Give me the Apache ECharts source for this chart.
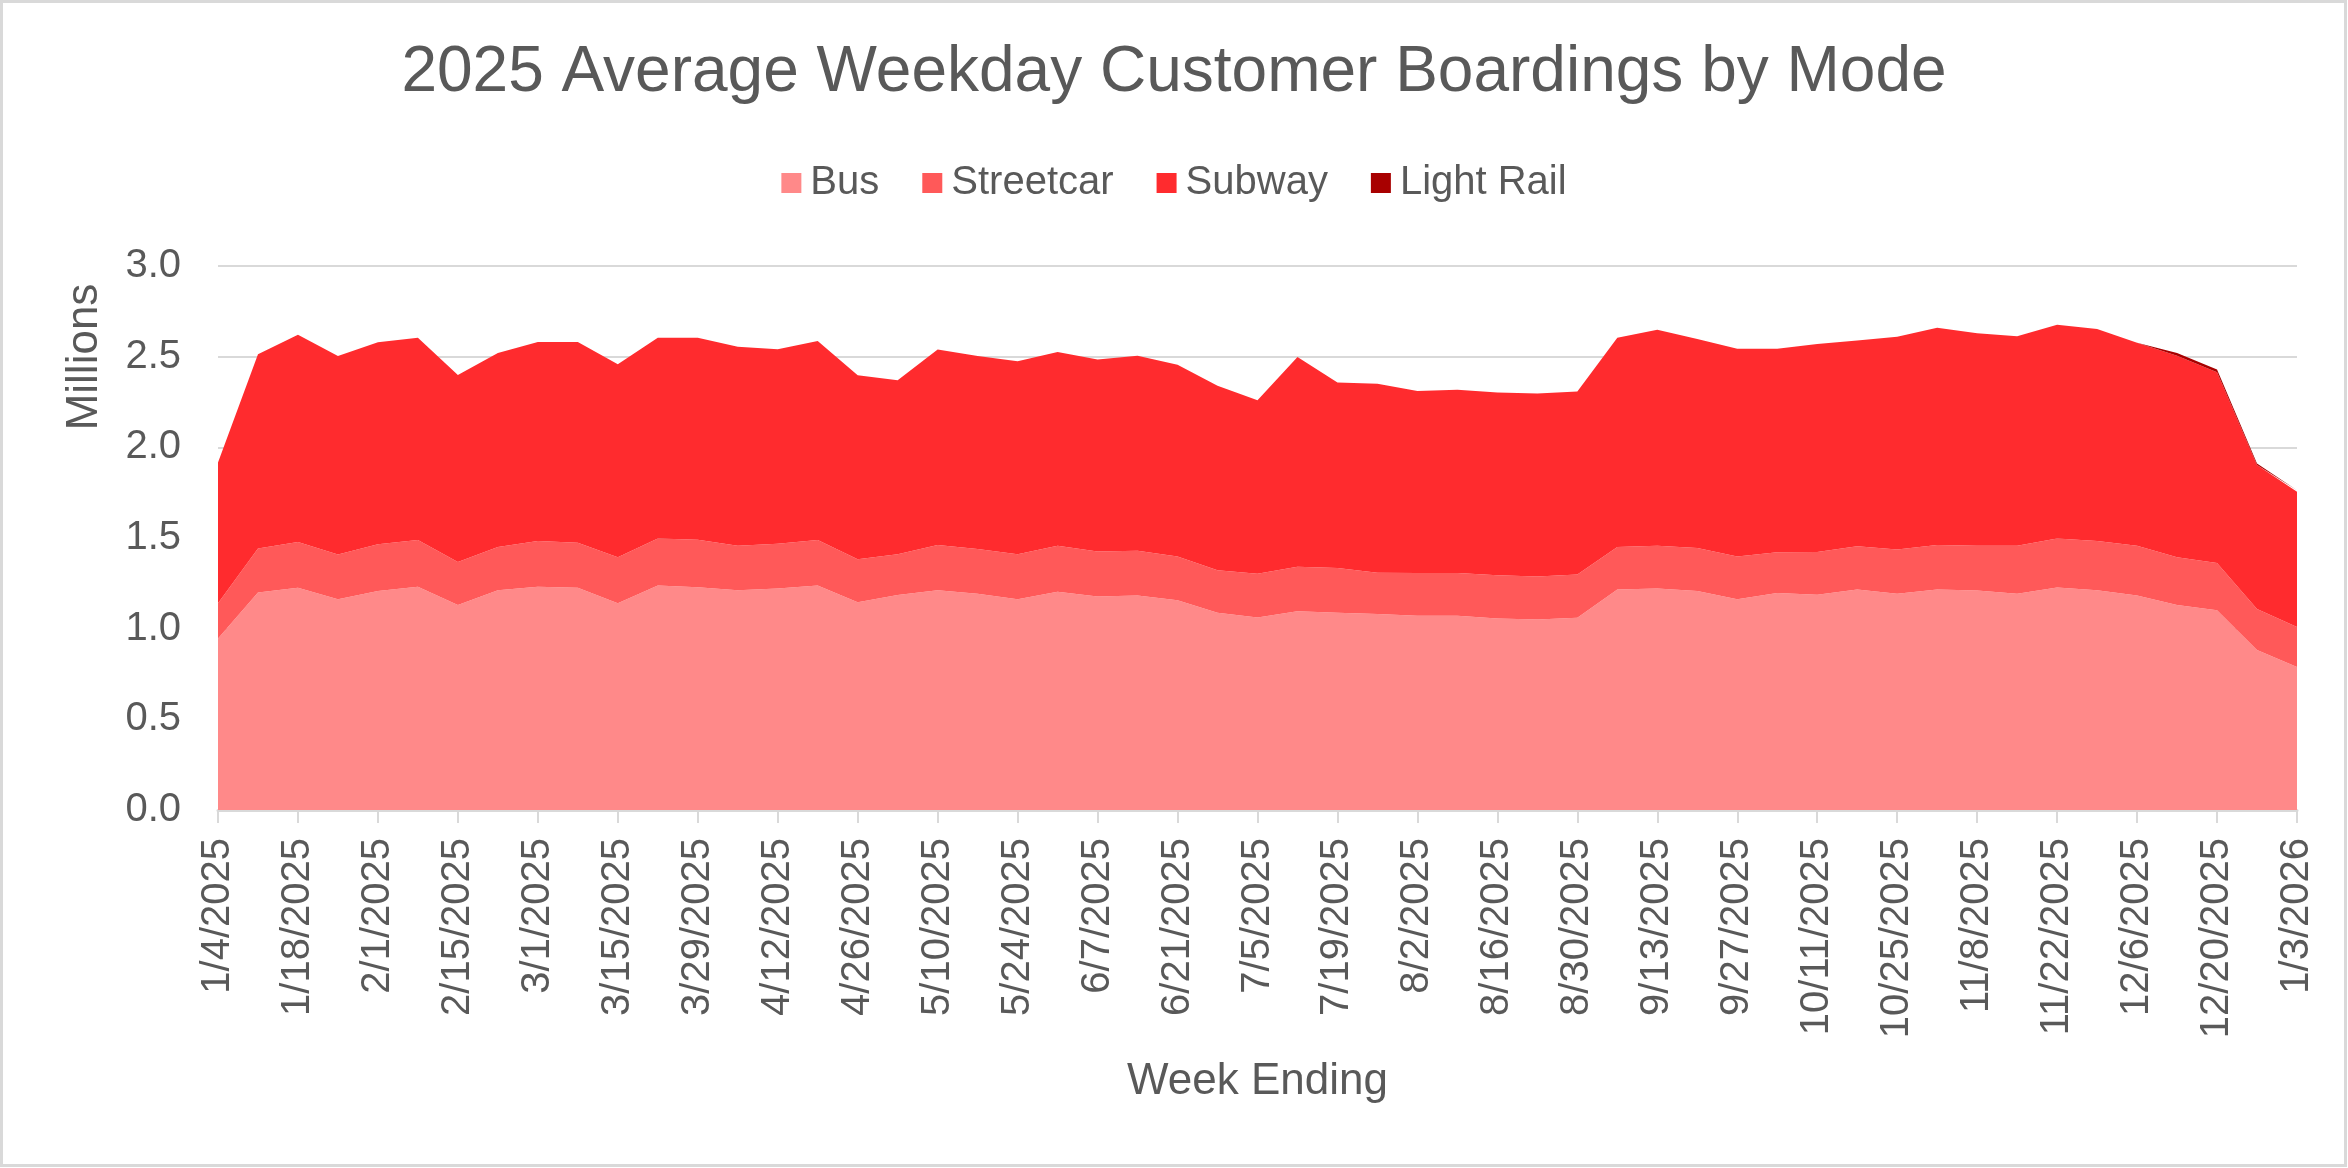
<!DOCTYPE html>
<html>
<head>
<meta charset="utf-8">
<script src="https://cdn.jsdelivr.net/npm/echarts@6/dist/echarts.min.js"></script>
<style>
  html, body { margin: 0; padding: 0; background: #fff; }
  #boardings { width: 2348px; height: 1168px; }
</style>
</head>
<body>
<div id="boardings"></div>
<script>
// week ending dates
const weeks = [
  "1/4/2025", "1/11/2025", "1/18/2025", "1/25/2025", "2/1/2025", "2/8/2025", "2/15/2025", "2/22/2025",
  "3/1/2025", "3/8/2025", "3/15/2025", "3/22/2025", "3/29/2025", "4/5/2025", "4/12/2025", "4/19/2025",
  "4/26/2025", "5/3/2025", "5/10/2025", "5/17/2025", "5/24/2025", "5/31/2025", "6/7/2025", "6/14/2025",
  "6/21/2025", "6/28/2025", "7/5/2025", "7/12/2025", "7/19/2025", "7/26/2025", "8/2/2025", "8/9/2025",
  "8/16/2025", "8/23/2025", "8/30/2025", "9/6/2025", "9/13/2025", "9/20/2025", "9/27/2025", "10/4/2025",
  "10/11/2025", "10/18/2025", "10/25/2025", "11/1/2025", "11/8/2025", "11/15/2025", "11/22/2025", "11/29/2025",
  "12/6/2025", "12/13/2025", "12/20/2025", "12/27/2025", "1/3/2026"
];

// millions of boardings
const bus = [
  0.946, 1.200, 1.225, 1.162, 1.208, 1.231, 1.130, 1.212, 1.231, 1.225,
  1.140, 1.238, 1.229, 1.212, 1.221, 1.238, 1.146, 1.185, 1.212, 1.193,
  1.162, 1.204, 1.178, 1.183, 1.157, 1.088, 1.062, 1.096, 1.088, 1.081,
  1.071, 1.071, 1.056, 1.051, 1.060, 1.216, 1.221, 1.208, 1.162, 1.197,
  1.187, 1.216, 1.193, 1.216, 1.210, 1.193, 1.227, 1.212, 1.183, 1.130,
  1.102, 0.883, 0.788
];
const streetcar = [
  0.194, 0.242, 0.253, 0.247, 0.258, 0.258, 0.237, 0.239, 0.252, 0.249,
  0.254, 0.259, 0.262, 0.245, 0.247, 0.251, 0.237, 0.225, 0.249, 0.247,
  0.249, 0.253, 0.248, 0.247, 0.241, 0.234, 0.241, 0.245, 0.247, 0.228,
  0.236, 0.236, 0.239, 0.236, 0.239, 0.235, 0.236, 0.237, 0.236, 0.224,
  0.236, 0.239, 0.243, 0.245, 0.247, 0.264, 0.270, 0.271, 0.274, 0.264,
  0.260, 0.226, 0.221
];
const subway = [
  0.776, 1.071, 1.143, 1.094, 1.113, 1.115, 1.032, 1.069, 1.098, 1.107,
  1.064, 1.107, 1.113, 1.098, 1.073, 1.098, 1.015, 0.960, 1.078, 1.063,
  1.064, 1.069, 1.058, 1.075, 1.058, 1.018, 0.957, 1.157, 1.022, 1.042,
  1.003, 1.010, 1.007, 1.010, 1.009, 1.153, 1.191, 1.153, 1.145, 1.122,
  1.147, 1.134, 1.174, 1.198, 1.172, 1.155, 1.179, 1.170, 1.120, 1.111,
  1.052, 0.794, 0.746
];
const lightRail = [
  0, 0, 0, 0, 0, 0, 0, 0, 0, 0,
  0, 0, 0, 0, 0, 0, 0, 0, 0, 0,
  0, 0, 0, 0, 0, 0, 0, 0, 0, 0,
  0, 0, 0, 0, 0, 0, 0, 0, 0, 0,
  0, 0, 0, 0, 0, 0, 0, 0, 0, 0.015,
  0.015, 0.008, 0.008
];

const textColor = "#595959";
const lineColor = "#D9D9D9";
const font = "'Liberation Sans', Arial, sans-serif";

function areaSeries(name, data, color) {
  return {
    name: name,
    type: "line",
    stack: "total",
    data: data,
    showSymbol: false,
    symbol: "none",
    lineStyle: { width: 0 },
    itemStyle: { color: color },
    areaStyle: { color: color, opacity: 1 }
  };
}

let mychart = echarts.init(document.getElementById("boardings"));

const option = {
  backgroundColor: "#fff",
  animation: false,
  textStyle: { fontFamily: font },
  title: {
    text: "2025 Average Weekday Customer Boardings by Mode",
    left: "center",
    top: 36,
    textStyle: { color: textColor, fontSize: 64, fontWeight: "normal", fontFamily: font }
  },
  legend: {
    top: 158,
    left: "center",
    icon: "rect",
    itemWidth: 20,
    itemHeight: 20,
    itemGap: 43,
    textStyle: { color: textColor, fontSize: 40, fontFamily: font, padding: [0, 0, 0, 4] },
    data: ["Bus", "Streetcar", "Subway", "Light Rail"]
  },
  grid: {
    left: 218,
    right: 51,
    top: 266,
    bottom: 358,
    containLabel: false
  },
  xAxis: {
    type: "category",
    data: weeks,
    boundaryGap: false,
    name: "Week Ending",
    nameLocation: "middle",
    nameGap: 250,
    nameTextStyle: { color: textColor, fontSize: 44, fontFamily: font },
    axisLine: { lineStyle: { color: lineColor, width: 3 } },
    axisTick: {
      show: true,
      interval: 1,
      length: 13,
      lineStyle: { color: lineColor, width: 2 }
    },
    axisLabel: {
      interval: 1,
      rotate: 90,
      margin: 28,
      color: textColor,
      fontSize: 40,
      fontFamily: font
    }
  },
  yAxis: {
    type: "value",
    min: 0,
    max: 3,
    interval: 0.5,
    axisLine: { show: false },
    axisTick: { show: false },
    axisLabel: {
      margin: 37,
      color: textColor,
      fontSize: 40,
      fontFamily: font,
      formatter: function(v) {
        return v.toFixed(1);
      }
    },
    splitLine: { lineStyle: { color: lineColor, width: 2 } }
  },
  graphic: [
    {
      type: "text",
      x: 85,
      y: 357,
      rotation: Math.PI / 2,
      style: {
        text: "Millions",
        fill: textColor,
        fontSize: 44,
        fontFamily: font,
        align: "center",
        verticalAlign: "middle"
      }
    },
    {
      type: "rect",
      shape: { x: 1.5, y: 1.5, width: 2344, height: 1164 },
      style: { fill: "none", stroke: lineColor, lineWidth: 3 },
      silent: true
    }
  ],
  series: [
    areaSeries("Bus", bus, "#FF8989"),
    areaSeries("Streetcar", streetcar, "#FF5959"),
    areaSeries("Subway", subway, "#FF2B2E"),
    areaSeries("Light Rail", lightRail, "#A80000")
  ]
};

mychart.setOption(option);
</script>
</body>
</html>
